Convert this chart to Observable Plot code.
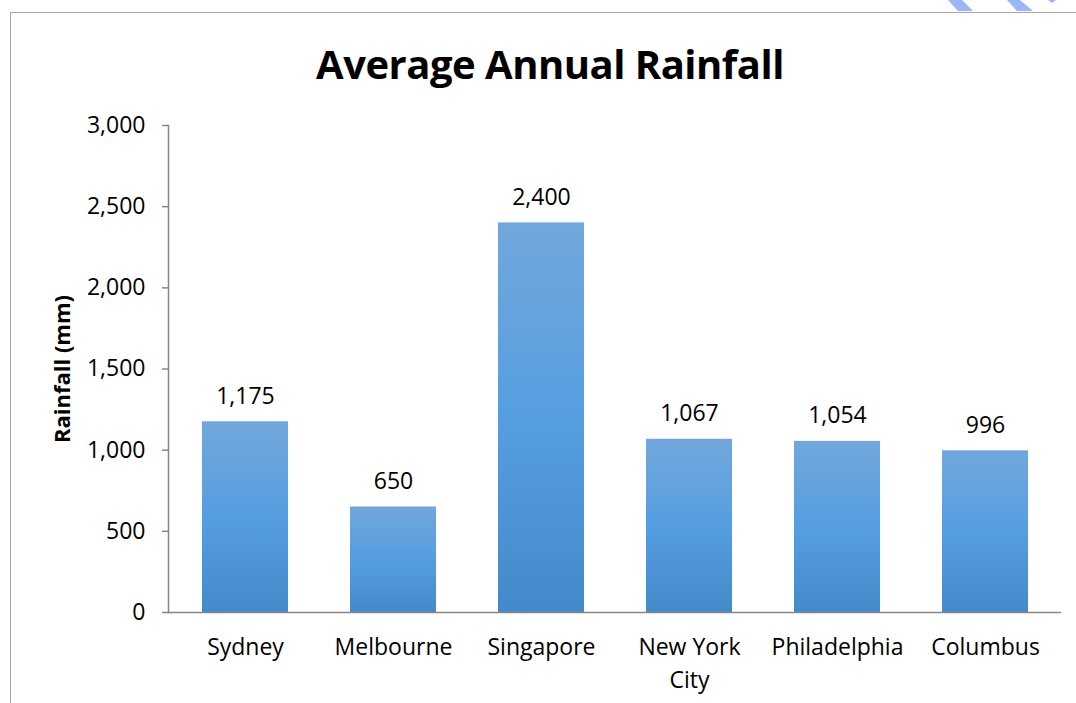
<!DOCTYPE html>
<html>
<head>
<meta charset="utf-8">
<script src="https://cdn.jsdelivr.net/npm/d3@7"></script>
<script src="https://cdn.jsdelivr.net/npm/@observablehq/plot@0.6"></script>
<style>
  html, body { margin: 0; padding: 0; background: #fff; }
  #wrap { position: relative; width: 1076px; height: 703px; overflow: hidden; font-family: "Open Sans", sans-serif; }
  #frame { position: absolute; left: 10px; top: 12px; width: 1200px; height: 800px;
           border-left: 1.5px solid #a6a6a6; border-top: 1.5px solid #a6a6a6; pointer-events: none; }
  #head { position: relative; height: 100px; }
  #title { position: absolute; left: 0; width: 1100px; top: 44px; text-align: center;
           font-family: "Open Sans", sans-serif; font-weight: 700; font-size: 40px; line-height: 1;
           color: #000; letter-spacing: -0.5px; }
  #deco { position: absolute; left: 0; top: 0; }
  #chart svg { display: block; }
</style>
</head>
<body>
<div id="wrap">
  <div id="head"><div id="title">Average Annual Rainfall</div></div>
  <div id="chart"></div>
  <div id="frame"></div>
  <svg id="deco" width="1076" height="14">
    <g fill="#9bb5fb">
      <polygon points="948,0 962,0 973,11 958,11"/>
      <polygon points="1007,0 1020,0 1033,11 1017,11"/>
      <polygon points="1048,0 1056,0 1052,3"/>
    </g>
  </svg>
</div>
<script>
// Average annual rainfall per city (mm)
const cities = ["Sydney", "Melbourne", "Singapore", "New York City", "Philadelphia", "Columbus"];
const rainfall = [1175, 650, 2400, 1067, 1054, 996];
const yTicks = [0, 500, 1000, 1500, 2000, 2500, 3000];
const yLabel = "Rainfall (mm)";

const rows = cities.map((city, i) => ({city, rainfall: rainfall[i]}));
const fmt = d3.format(",");
const wrapLabel = (c) => c === "New York City" ? "New York\nCity" : c;

const chart = Plot.plot({
  width: 1076,
  height: 603,
  marginLeft: 168,
  marginRight: 15,
  marginTop: 25,
  marginBottom: 91,
  style: {fontFamily: "'Open Sans', sans-serif", fontSize: "23px", color: "#000", background: "transparent", overflow: "visible"},
  x: {domain: cities, paddingInner: 0.42, paddingOuter: 0.21, label: null},
  y: {domain: [0, 3000], label: null},
  marks: [
    Plot.axisY({ticks: yTicks, tickFormat: fmt, tickSize: 6, tickPadding: 17, stroke: "#868686", strokeOpacity: 1, strokeWidth: 1.5, fill: "#000", fontSize: 23, label: null}),
    Plot.axisX({tickSize: 0, tickPadding: 20, tickFormat: wrapLabel, lineHeight: 1.4, fontSize: 23, fill: "#000", label: null}),
    Plot.barY(rows, {x: "city", y: "rainfall", fill: "url(#barGrad)"}),
    Plot.ruleY([0], {stroke: "#868686", strokeWidth: 1.5}),
    Plot.frame({anchor: "left", stroke: "#868686", strokeWidth: 1.5}),
    Plot.text(rows, {x: "city", y: "rainfall", text: d => fmt(d.rainfall), lineAnchor: "bottom", dy: -18, fontSize: 23, fill: "#000"}),
    Plot.text([yLabel], {frameAnchor: "left", textAnchor: "middle", rotate: -90, dx: -106, fontWeight: "bold", fontSize: 22, fill: "#000"})
  ]
});

// per-bar vertical gradient
const defs = d3.select(chart).insert("defs", ":first-child");
const grad = defs.append("linearGradient").attr("id", "barGrad").attr("x1", 0).attr("y1", 0).attr("x2", 0).attr("y2", 1);
grad.append("stop").attr("offset", "0%").attr("stop-color", "#72a7dc");
grad.append("stop").attr("offset", "50%").attr("stop-color", "#559ee0");
grad.append("stop").attr("offset", "100%").attr("stop-color", "#438aca");

document.getElementById("chart").appendChild(chart);
</script>
</body>
</html>
